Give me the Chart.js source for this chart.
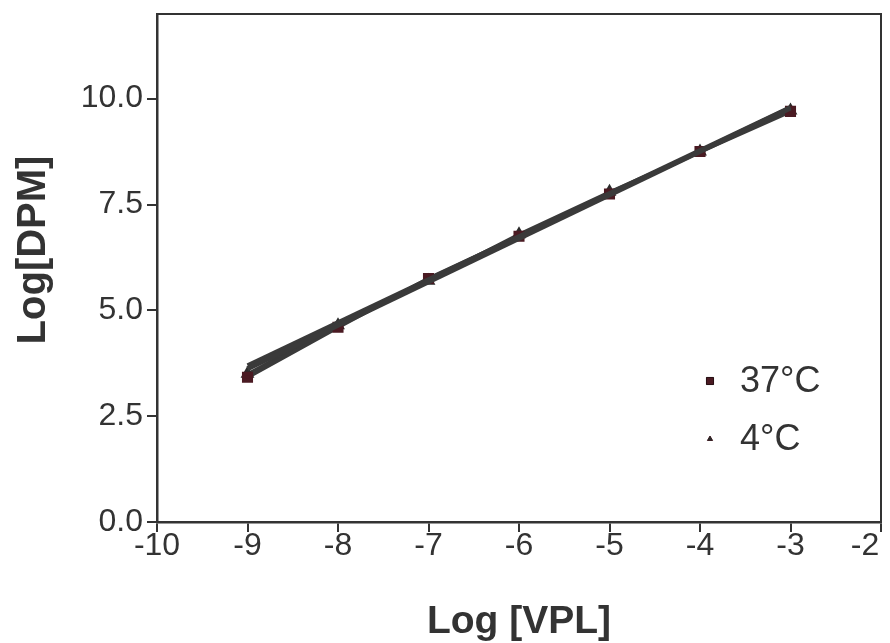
<!DOCTYPE html>
<html>
<head>
<meta charset="utf-8">
<script src="https://cdn.jsdelivr.net/npm/chart.js@4/dist/chart.umd.min.js"></script>
<style>
  html, body { margin: 0; padding: 0; background: #fff; }
  #wrap { width: 890px; height: 643px; }
</style>
</head>
<body>
<div id="wrap"><canvas id="c" width="890" height="643"></canvas></div>
<script>
// log concentration of VPL
const logVPL = [-9, -8, -7, -6, -5, -4, -3];
const dpm37 = [3.42, 4.6, 5.75, 6.75, 7.75, 8.75, 9.7];
const dpm4 = [3.5, 4.65, 5.7, 6.8, 7.8, 8.75, 9.72];
// fitted lines, end points
const fitX = [-9, -3];
const fit37 = [3.62, 9.78];
const fit4 = [3.7, 9.8];
const xTicks = [-10, -9, -8, -7, -6, -5, -4, -3, -2];
const yTicks = [0, 2.5, 5, 7.5, 10];
const yTitle = 'Log[DPM]';

const ink = '#333333';
const fam = '"Liberation Sans", Arial, sans-serif';
const toXY = (xs, ys) => xs.map((x, i) => ({ x: x, y: ys[i] }));

const legendInside = {
  id: 'legendInside',
  afterDatasetsDraw(chart) {
    const ctx = chart.ctx;
    const items = chart.data.datasets.filter(d => d.showInLegend);
    ctx.save();
    items.forEach((d, i) => {
      const y = 381 + i * 58;
      Chart.helpers.drawPoint(ctx, {
        pointStyle: d.pointStyle, radius: d.legendRadius, rotation: 0, borderWidth: 1
      }, 710, y);
      ctx.fillStyle = d.pointBackgroundColor;
      ctx.strokeStyle = d.pointBackgroundColor;
      ctx.fill();
      ctx.fillStyle = ink;
      ctx.font = '36px ' + fam;
      ctx.textBaseline = 'middle';
      ctx.fillText(d.label, 740, y + 1);
    });
    ctx.restore();
  }
};

const frame = {
  id: 'frame',
  afterDraw(chart) {
    const { ctx, chartArea: a } = chart;
    ctx.save();
    ctx.strokeStyle = ink;
    ctx.lineWidth = 2;
    ctx.beginPath();
    ctx.moveTo(a.left, a.top);
    ctx.lineTo(a.right, a.top);
    ctx.lineTo(a.right, a.bottom);
    ctx.stroke();
    // y axis title
    ctx.translate(34, 250);
    ctx.rotate(-Math.PI / 2);
    ctx.fillStyle = ink;
    ctx.font = 'bold 40px ' + fam;
    ctx.textAlign = 'center';
    ctx.textBaseline = 'middle';
    ctx.fillText(yTitle, 0, 0);
    ctx.restore();
  }
};

new Chart(document.getElementById('c'), {
  type: 'scatter',
  data: {
    datasets: [
      {
        label: 'fit 37', data: toXY(fitX, fit37), showLine: true,
        borderColor: '#3a3a3a', borderWidth: 5, pointRadius: 0
      },
      {
        label: 'fit 4', data: toXY(fitX, fit4), showLine: true,
        borderColor: '#3a3a3a', borderWidth: 4, pointRadius: 0
      },
      {
        label: '37°C', showInLegend: true, legendRadius: 5,
        data: toXY(logVPL, dpm37), showLine: true,
        borderColor: '#3a3a3a', borderWidth: 4,
        pointStyle: 'rect', pointRadius: 5,
        pointBackgroundColor: '#4a1a22', pointBorderColor: '#4a1a22'
      },
      {
        label: '4°C', showInLegend: true, legendRadius: 3,
        data: toXY(logVPL, dpm4), showLine: true,
        borderColor: '#3a3a3a', borderWidth: 3,
        pointStyle: 'triangle', pointRadius: 5,
        pointBackgroundColor: '#2a2a2a', pointBorderColor: '#2a2a2a'
      }
    ]
  },
  options: {
    responsive: false,
    animation: false,
    layout: { padding: { top: 14, right: 9, left: 0, bottom: 0 } },
    plugins: { legend: { display: false }, tooltip: { enabled: false } },
    scales: {
      x: {
        type: 'linear', min: -10, max: -2,
        afterBuildTicks: s => { s.ticks = xTicks.map(v => ({ value: v })); },
        afterFit: s => { s.height = 121; s.paddingLeft = 0; s.paddingRight = 0; },
        grid: { drawOnChartArea: false, drawTicks: true, tickLength: 10, color: ink, lineWidth: 2 },
        border: { color: ink, width: 2.5 },
        ticks: {
          color: ink, padding: -5, font: { size: 32, family: fam },
          // last label sits at the canvas edge, nudge it inward
          callback: v => (v === -2 ? '-2\u2003' : String(v))
        },
        title: {
          display: true, text: 'Log [VPL]', color: ink,
          font: { size: 39, weight: 'bold', family: fam },
          padding: { top: 0, bottom: -3 }
        }
      },
      y: {
        type: 'linear', min: 0, max: 12,
        afterBuildTicks: s => { s.ticks = yTicks.map(v => ({ value: v })); },
        afterFit: s => { s.width = 157; s.paddingTop = 0; s.paddingBottom = 0; },
        grid: { drawOnChartArea: false, drawTicks: true, tickLength: 10, color: ink, lineWidth: 2 },
        border: { color: ink, width: 2.5 },
        ticks: {
          color: ink, padding: 4,
          font: { size: 32, family: fam },
          callback: v => v.toFixed(1)
        },
        title: { display: false }
      }
    }
  },
  plugins: [legendInside, frame]
});
</script>
</body>
</html>
